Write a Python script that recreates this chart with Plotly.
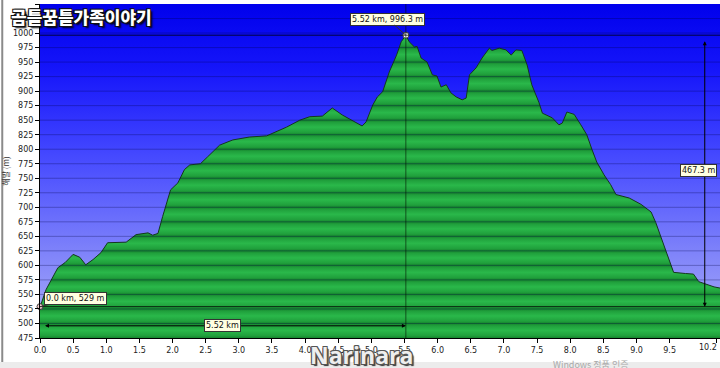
import plotly.graph_objects as go

# ---- data ----
km = [0.00, 0.015, 0.09, 0.17, 0.27, 0.38, 0.50, 0.60, 0.69, 0.80, 0.92, 1.02, 1.30, 1.45,
      1.63, 1.70, 1.78, 1.85, 1.97, 2.08, 2.18, 2.26, 2.42, 2.53, 2.71, 2.91, 3.16, 3.42,
      3.61, 3.72, 3.92, 4.07, 4.26, 4.41, 4.56, 4.71, 4.86, 4.92, 5.02, 5.09, 5.17, 5.27,
      5.38, 5.45, 5.52, 5.57, 5.65, 5.69, 5.75, 5.84, 5.92, 5.99, 6.05, 6.13, 6.20, 6.28,
      6.37, 6.43, 6.48, 6.58, 6.67, 6.78, 6.82, 6.93, 7.03, 7.11, 7.18, 7.27, 7.35, 7.42,
      7.53, 7.58, 7.73, 7.83, 7.88, 7.95, 8.06, 8.16, 8.25, 8.33, 8.40, 8.51, 8.61, 8.69,
      8.89, 9.07, 9.22, 9.29, 9.38, 9.49, 9.56, 9.74, 9.86, 9.94, 10.06, 10.17, 10.26]
elev = [529, 533, 558, 576, 596, 605, 619, 614, 601, 610, 622, 639, 640, 653,
        656, 652, 655, 684, 730, 742, 765, 773, 775, 787, 807, 816, 821, 823,
        833, 838, 850, 856, 857, 871, 859, 850, 840, 847, 876, 890, 899, 933,
        962, 985, 996.3, 985, 976, 977, 957, 950, 928, 926, 907, 911, 897, 890,
        885, 888, 928, 940, 957, 974, 970, 974, 971, 962, 971, 970, 945, 911,
        880, 862, 854, 842, 845, 864, 860, 842, 825, 799, 778, 756, 739, 722,
        716, 705, 692, 674, 644, 610, 588, 586, 585, 572, 567, 563, 561]

y_ticks = list(range(475, 1051, 25))
x_tickvals = [0.0, 0.5, 1.0, 1.5, 2.0, 2.5, 3.0, 3.5, 4.0, 4.5, 5.0, 5.5, 6.0, 6.5,
              7.0, 7.5, 8.0, 8.5, 9.0, 9.5, 10.2]
x_ticktext = ["0.0", "0.5", "1.0", "1.5", "2.0", "2.5", "3.0", "3.5", "4.0", "4.5",
              "5.0", "5.5", "6.0", "6.5", "7.0", "7.5", "8.0", "8.5", "9.0", "9.5", "10.2"]

start_km, start_m = 0.0, 529
peak_km, peak_m = 5.52, 996.3
climb_label = "467.3 m"
dist_label = "5.52 km"
dim_line_m = 496      # horizontal distance dimension line
dim_line_km = 10.03   # vertical climb dimension line

title_text = "곰틀꿈틀가족이야기"
y_title = "해발 (m)"

X_MIN, X_MAX = 0.0, 10.26
Y_MIN, Y_MAX = 475, 1050

# ---- colour scales ----
span = Y_MAX - Y_MIN
blue_scale = [[0.0, "rgb(176,178,248)"], [0.25, "rgb(128,132,250)"],
              [0.55, "rgb(68,72,255)"], [0.8, "rgb(22,22,250)"], [1.0, "rgb(0,0,236)"]]

green_scale = []
dark, mid, light = "rgb(22,132,46)", "rgb(32,160,60)", "rgb(42,184,74)"
for L in range(Y_MIN, Y_MAX, 25):
    for off, col in [(0, dark), (4, mid), (13, light), (21, mid)]:
        green_scale.append([(L + off - Y_MIN) / span, col])
green_scale.append([1.0, dark])

fig = go.Figure()

# blue sky background
fig.add_trace(go.Scatter(
    x=[X_MIN, X_MAX], y=[Y_MAX, Y_MAX], mode="lines", line=dict(width=0),
    fill="tozeroy",
    fillgradient=dict(type="vertical", colorscale=blue_scale, start=Y_MIN, stop=Y_MAX),
    hoverinfo="skip", showlegend=False))

# elevation profile
fig.add_trace(go.Scatter(
    x=km, y=elev, mode="lines", line=dict(color="rgb(20,55,30)", width=1),
    fill="tozeroy",
    fillgradient=dict(type="vertical", colorscale=green_scale, start=Y_MIN, stop=Y_MAX),
    hoverinfo="skip", showlegend=False))

# marked points
fig.add_trace(go.Scatter(
    x=[start_km, peak_km], y=[start_m, peak_m], mode="markers",
    marker=dict(size=6, color=["#f3caca", "#ffffff"], line=dict(color="#444", width=1)),
    hoverinfo="skip", showlegend=False, cliponaxis=False))

shapes = []
for t in y_ticks[1:-1]:
    shapes.append(dict(type="line", xref="paper", x0=0, x1=1, yref="y", y0=t, y1=t,
                       line=dict(color="rgba(0,0,70,0.30)", width=1), layer="above"))
for m in (start_m, peak_m):
    shapes.append(dict(type="line", xref="paper", x0=0, x1=1, yref="y", y0=m, y1=m,
                       line=dict(color="rgba(0,0,0,0.75)", width=1), layer="above"))
shapes.append(dict(type="line", xref="x", x0=peak_km, x1=peak_km, yref="paper", y0=0, y1=1,
                   line=dict(color="rgba(0,20,0,0.6)", width=1), layer="above"))
# frame of the screenshot
shapes.append(dict(type="rect", xref="paper", x0=-0.06, x1=1.0, yref="paper",
                   y0=-0.092, y1=-0.072, fillcolor="#ececec", line=dict(width=0), layer="below"))
shapes.append(dict(type="line", xref="paper", x0=-0.0555, x1=-0.0555, yref="paper",
                   y0=-0.072, y1=1.02, line=dict(color="#8a8a8a", width=2), layer="below"))

box = dict(bgcolor="#ffffe1", bordercolor="#333", borderwidth=1, borderpad=1,
           font=dict(family="DejaVu Sans", size=8, color="#111"))
tick_font = dict(family="DejaVu Sans", size=8, color="#222")

# last tick label is placed right-aligned so that it stays inside the picture
shown_ticktext = x_ticktext[:-1] + [""]

annotations = [
    dict(x=peak_km, y=peak_m, text=f"{peak_km:.2f} km, {peak_m:.1f} m", showarrow=True,
         arrowhead=0, arrowcolor="#333", arrowwidth=1, ax=-18, ay=-16, **box),
    dict(x=start_km, y=start_m, text=f"{start_km:.1f} km, {start_m} m", showarrow=True,
         arrowhead=0, arrowcolor="#333", arrowwidth=1, ax=35, ay=-8, **box),
    # dimension arrows
    dict(x=peak_km, y=dim_line_m, ax=start_km + 0.03, ay=dim_line_m, axref="x", ayref="y",
         xref="x", yref="y", text=" ", showarrow=True, arrowside="end+start",
         arrowhead=2, arrowsize=0.8, arrowwidth=1, arrowcolor="black"),
    dict(x=dim_line_km, y=start_m, ax=dim_line_km, ay=peak_m, axref="x", ayref="y",
         xref="x", yref="y", text=" ", showarrow=True, arrowside="end+start",
         arrowhead=2, arrowsize=0.8, arrowwidth=1, arrowcolor="black"),
    dict(x=peak_km / 2, y=dim_line_m, text=dist_label, showarrow=False, **box),
    dict(x=dim_line_km, y=(start_m + peak_m) / 2, text=climb_label, showarrow=False,
         xshift=-6, **box),
    # last x tick label
    dict(xref="paper", yref="paper", x=1.0, y=0, xanchor="right", yanchor="top",
         yshift=-3, xshift=-1, text=x_ticktext[-1], showarrow=False, font=tick_font),
    # watermarks
    dict(xref="paper", yref="paper", x=-0.046, y=0.963, xanchor="left", yanchor="middle",
         text=title_text, showarrow=False,
         font=dict(family="Noto Sans CJK KR", size=17, color="white", weight=900,
                   shadow="1px 1px 0 #111, -1px -1px 0 #111, 1px -1px 0 #111, -1px 1px 0 #111, 2px 2px 2px #000")),
    dict(xref="paper", yref="paper", x=0.4735, y=-0.05, xanchor="center", yanchor="middle",
         text="Narinara", showarrow=False,
         font=dict(family="Open Sans", size=23, color="#eeeeee", weight=700,
                   shadow="1px 1px 0 #555, -1px -1px 0 #555, 1px -1px 0 #555, -1px 1px 0 #555, 2px 2px 1px #333")),
    dict(xref="paper", yref="paper", x=0.81, y=-0.079, xanchor="center", yanchor="middle",
         text="Windows 정품 인증", showarrow=False,
         font=dict(family="Noto Sans CJK KR", size=9, color="#a8a8a8")),
]

fig.update_layout(
    width=720, height=368,
    margin=dict(l=40, r=0, t=4, b=30, autoexpand=False),
    paper_bgcolor="white", plot_bgcolor="white",
    shapes=shapes, annotations=annotations,
    font=dict(family="DejaVu Sans", size=8, color="#222"),
    xaxis=dict(range=[X_MIN, X_MAX], tickvals=x_tickvals, ticktext=shown_ticktext,
               automargin=False,
               showgrid=False, zeroline=False, ticks="outside", ticklen=4, tickcolor="black",
               showline=True, linecolor="black", linewidth=1, tickfont=tick_font),
    yaxis=dict(range=[Y_MIN, Y_MAX], tickvals=y_ticks, showgrid=False, zeroline=False,
               automargin=False,
               ticks="outside", ticklen=4, tickcolor="black",
               showline=True, linecolor="black", linewidth=1, tickfont=tick_font,
               title=dict(text=y_title, standoff=4,
                          font=dict(family="Noto Sans CJK KR", size=8, color="#333"))),
)

fig.write_html("out.html", config={"displayModeBar": False},
               post_script="document.body.style.margin='0';document.body.style.overflow='hidden';")
